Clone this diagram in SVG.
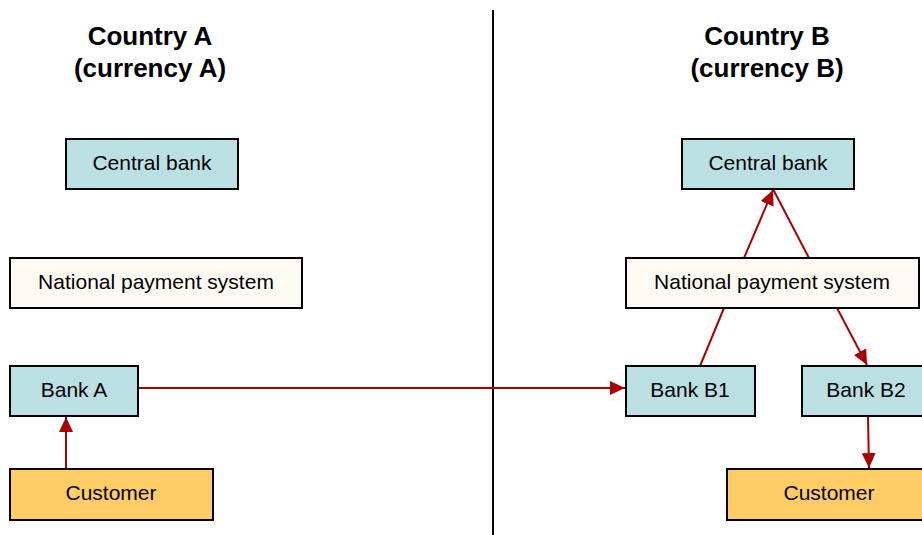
<svg xmlns="http://www.w3.org/2000/svg" width="922" height="535" viewBox="0 0 922 535">
<style>
.box{stroke:#000;stroke-width:2}
.blue{fill:#BBE0E3}
.cream{fill:#FCFAF2}
.orange{fill:#FFCC66}
.lbl{font-family:"Liberation Sans",Arial,sans-serif;font-size:21px;fill:#000;text-anchor:middle}
.ttl{font-family:"Liberation Sans",Arial,sans-serif;font-size:26px;font-weight:bold;fill:#000;text-anchor:middle}
.con{stroke:#AA0000;stroke-width:2;fill:none}
</style>
<defs>
<marker id="arr" markerUnits="userSpaceOnUse" markerWidth="16" markerHeight="14" refX="15" refY="7" orient="auto">
<path d="M0,0 L15,7 L0,14 z" fill="#AA0000"/>
</marker>
</defs>
<rect width="922" height="535" fill="#fff"/>
<line x1="493" y1="10" x2="493" y2="535" stroke="#000" stroke-width="2"/>
<g id="titles">
<text class="ttl" x="150" y="45">Country A</text>
<text class="ttl" x="150" y="77">(currency A)</text>
<text class="ttl" x="767" y="45">Country B</text>
<text class="ttl" x="767" y="77">(currency B)</text>
</g>
<g id="connectors">
<line class="con" x1="66" y1="469" x2="66" y2="417" marker-end="url(#arr)"/>
<line class="con" x1="138" y1="388" x2="625" y2="388" marker-end="url(#arr)"/>
<line class="con" x1="744" y1="258" x2="773" y2="190" marker-end="url(#arr)"/>
<line class="con" x1="773" y1="189" x2="809" y2="258"/>
<line class="con" x1="700" y1="366" x2="724" y2="308"/>
<line class="con" x1="837" y1="308" x2="867" y2="365" marker-end="url(#arr)"/>
<line class="con" x1="868" y1="416" x2="869" y2="468" marker-end="url(#arr)"/>
</g>
<g id="centralA"><rect class="box blue" x="66" y="139" width="172" height="50"/><text class="lbl" x="152" y="170">Central bank</text></g>
<g id="npsA"><rect class="box cream" x="10" y="258" width="292" height="50"/><text class="lbl" x="156" y="289">National payment system</text></g>
<g id="bankA"><rect class="box blue" x="10" y="366" width="128" height="50"/><text class="lbl" x="74" y="397">Bank A</text></g>
<g id="customerA"><rect class="box orange" x="10" y="469" width="203" height="51"/><text class="lbl" x="111" y="500">Customer</text></g>
<g id="centralB"><rect class="box blue" x="682" y="139" width="172" height="50"/><text class="lbl" x="768" y="170">Central bank</text></g>
<g id="npsB"><rect class="box cream" x="626" y="258" width="293" height="50"/><text class="lbl" x="772" y="289">National payment system</text></g>
<g id="bankB1"><rect class="box blue" x="626" y="366" width="129" height="50"/><text class="lbl" x="690" y="397">Bank B1</text></g>
<g id="bankB2"><rect class="box blue" x="802" y="366" width="129" height="50"/><text class="lbl" x="866" y="397">Bank B2</text></g>
<g id="customerB"><rect class="box orange" x="727" y="469" width="204" height="51"/><text class="lbl" x="829" y="500">Customer</text></g>
</svg>
